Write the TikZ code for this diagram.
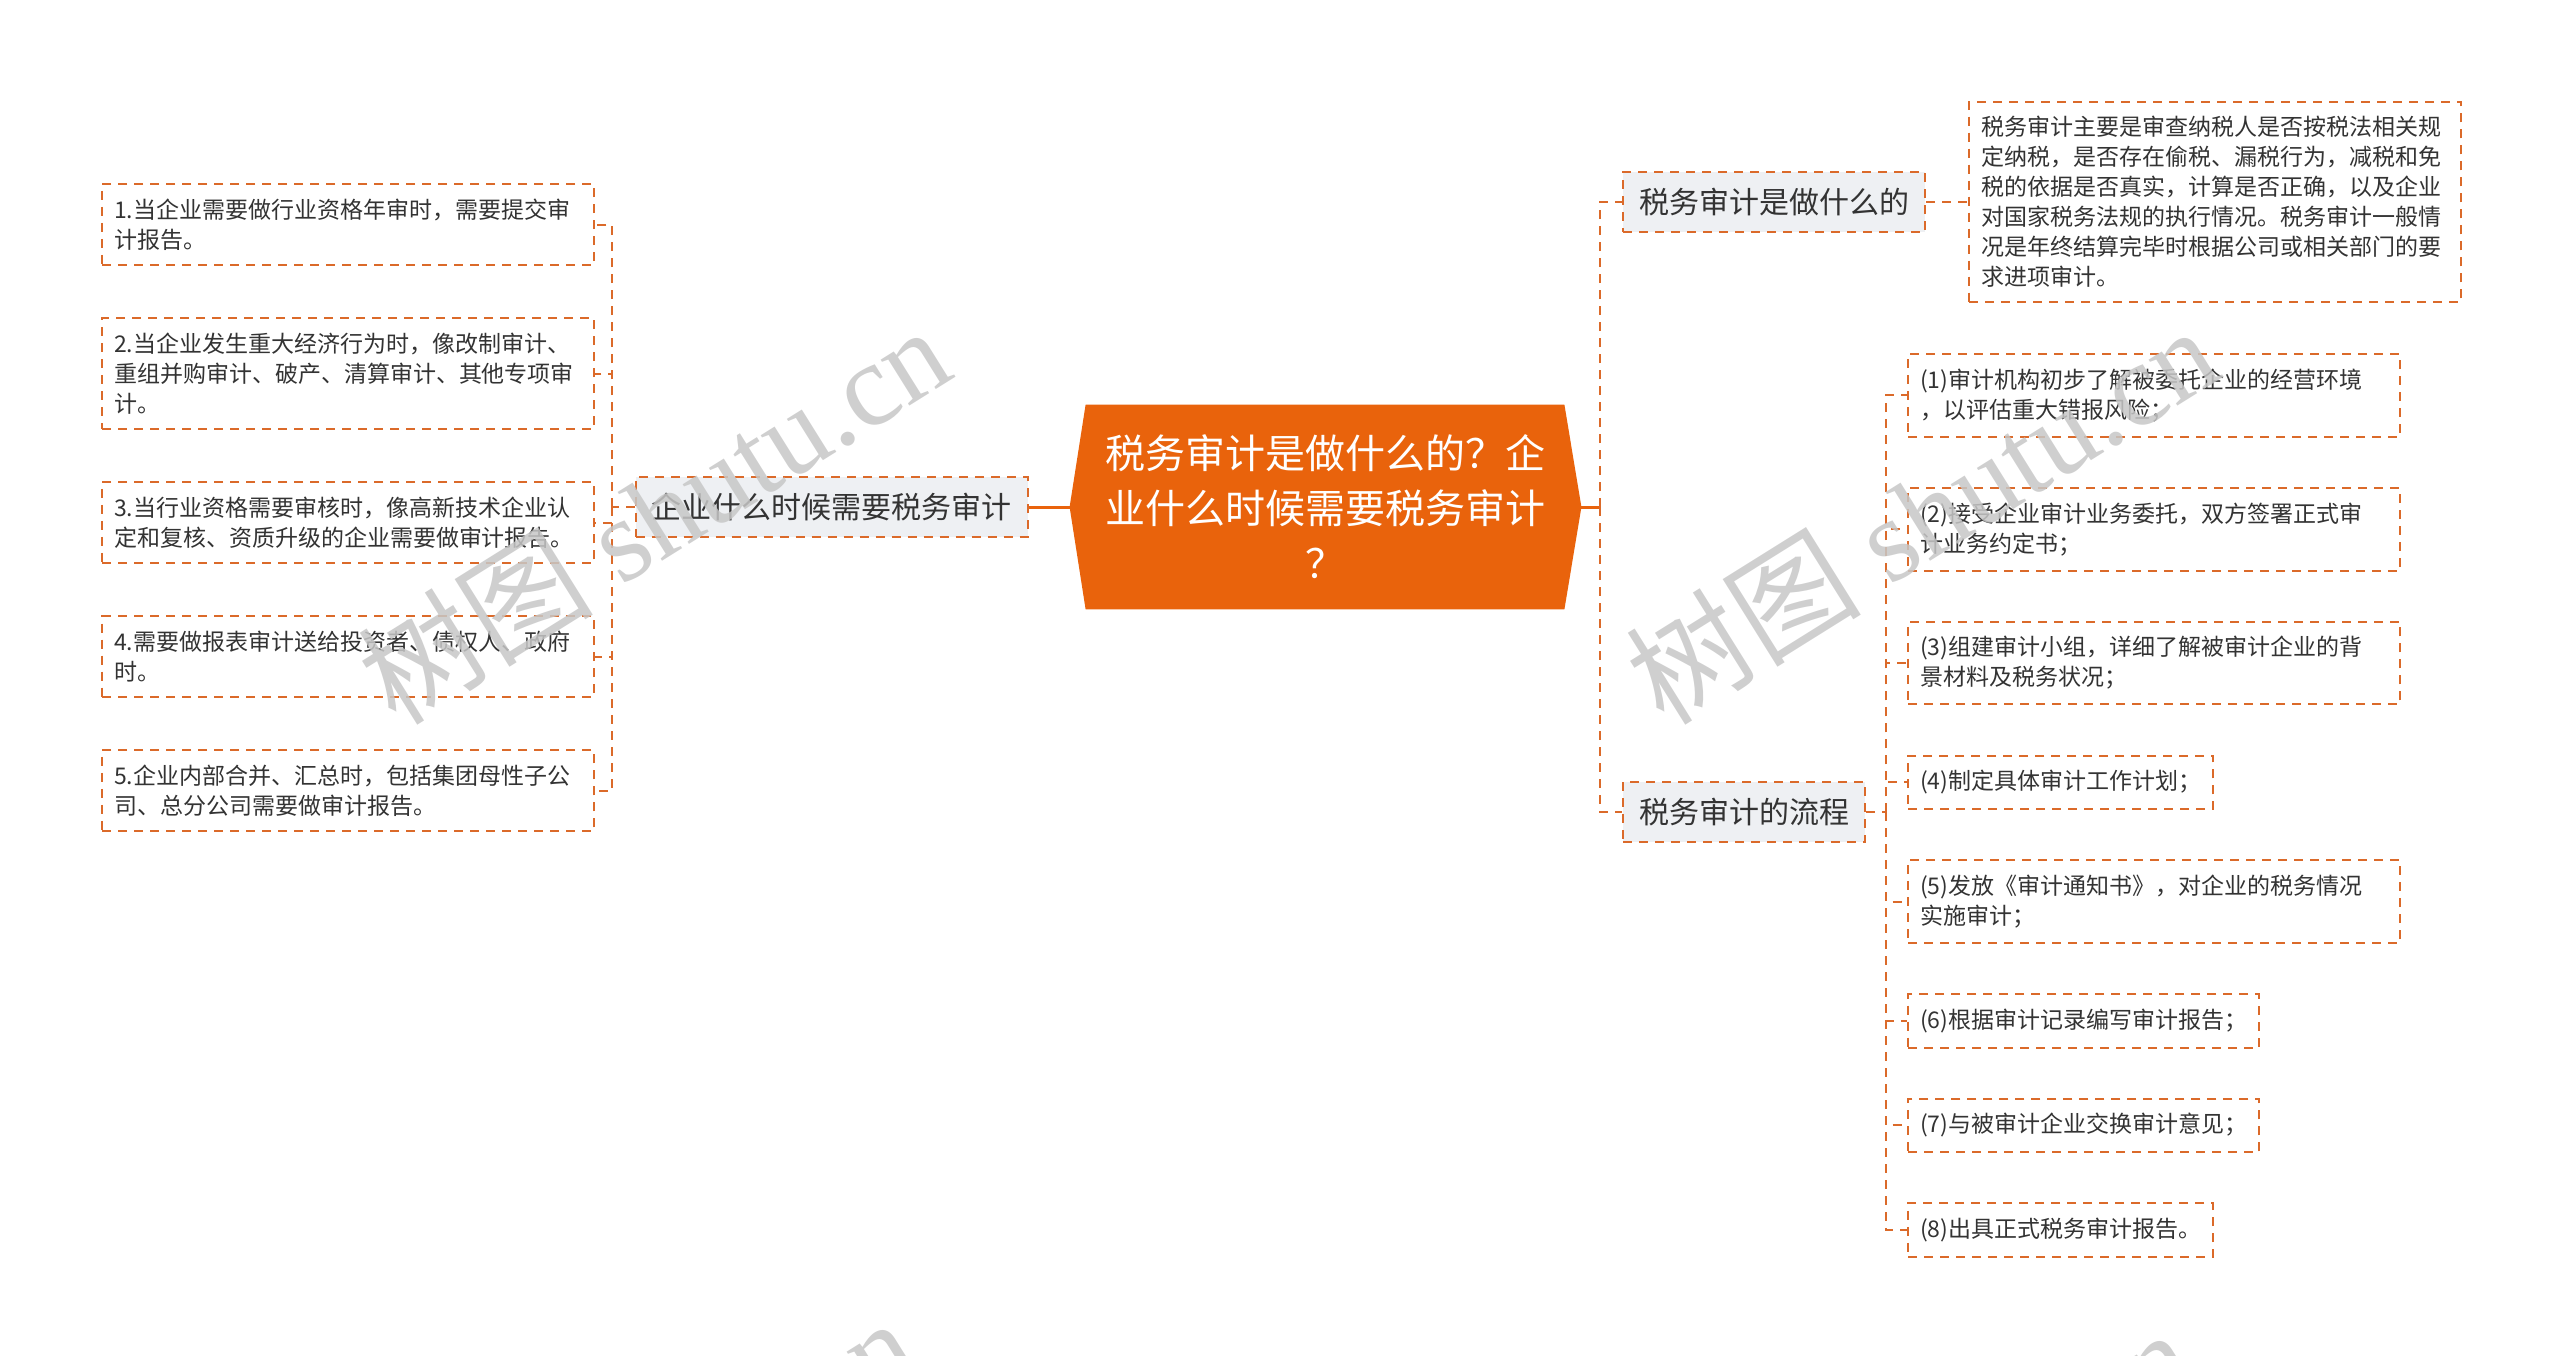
\documentclass[tikz,border=0pt]{standalone}
\usepackage{fontspec}
\usetikzlibrary{positioning, backgrounds}

\newfontfamily\cjkfont{Noto Sans CJK SC}
\newfontfamily\markfont{Liberation Serif}

\definecolor{rootorange}{HTML}{E9630C}
\definecolor{dashorange}{HTML}{DB6A2A}
\definecolor{subgray}{HTML}{EEF0F3}
\definecolor{inkgray}{HTML}{333333}

\begin{document}
\begin{tikzpicture}[
        x=0.5pt, y=-0.5pt,
        node distance=24.5pt,
        topic/.style={rectangle, minimum width=239pt, minimum height=102pt, inner sep=0pt, align=center, text=white, font=\cjkfont\fontsize{20}{27.5}\selectfont},
        subtopic/.style={rectangle, draw=dashorange, fill=subgray, line width=1pt, dash pattern=on 4.5pt off 3.5pt, inner xsep=8pt, inner ysep=8pt, text=inkgray, font=\cjkfont\fontsize{15}{18}\selectfont},
        detail/.style={rectangle, draw=dashorange, fill=white, line width=1pt, dash pattern=on 4.5pt off 3.5pt, inner xsep=6pt, inner ysep=7.4pt, align=left, text=inkgray, font=\cjkfont\fontsize{11.5}{15}\selectfont},
        widedetail/.style={detail, text width=234pt},
        link/.style={draw=dashorange, line width=1pt, dash pattern=on 4.5pt off 3.5pt},
        trunk/.style={draw=rootorange, line width=1.5pt},
        stamp/.style={text=black!22, text opacity=0.85, rotate=32, font=\markfont\fontsize{59}{59}\selectfont}
    ]
        \useasboundingbox (0,0) rectangle (2560,1355);

        % Central topic
        \node[topic] (root) at (1325,507) {税务审计是做什么的？企\\业什么时候需要税务审计\\？};
        \begin{scope}[on background layer]
            \fill[rootorange] ([xshift=-8pt]root.west) -- (root.north west) -- (root.north east)
                -- ([xshift=8.5pt]root.east) -- (root.south east) -- (root.south west) -- cycle;
        \end{scope}

        % Branches
        \node[subtopic, left=28.5pt of root] (when) {企业什么时候需要税务审计};
        \node[subtopic, anchor=west] (what) at (1622,202) {税务审计是做什么的};
        \node[subtopic, anchor=west] (flow) at (1622,812) {税务审计的流程};

        % When is an audit needed
        \node[widedetail, anchor=north west] (w1) at (101,183) {1.当企业需要做行业资格年审时，需要提交审\\计报告。};
        \node[widedetail, below=25.5pt of w1.south west, anchor=north west] (w2) {2.当企业发生重大经济行为时，像改制审计、\\重组并购审计、破产、清算审计、其他专项审\\计。};
        \node[widedetail, below=25.5pt of w2.south west, anchor=north west] (w3) {3.当行业资格需要审核时，像高新技术企业认\\定和复核、资质升级的企业需要做审计报告。};
        \node[widedetail, below=25.5pt of w3.south west, anchor=north west] (w4) {4.需要做报表审计送给投资者、债权人、政府\\时。};
        \node[widedetail, below=25.5pt of w4.south west, anchor=north west] (w5) {5.企业内部合并、汇总时，包括集团母性子公\\司、总分公司需要做审计报告。};

        % What it is
        \node[widedetail, right=21pt of what] (desc) {税务审计主要是审查纳税人是否按税法相关规\\定纳税，是否存在偷税、漏税行为，减税和免\\税的依据是否真实，计算是否正确，以及企业\\对国家税务法规的执行情况。税务审计一般情\\况是年终结算完毕时根据公司或相关部门的要\\求进项审计。};

        % Steps
        \node[widedetail, anchor=north west] (s1) at (1907,353) {(1)审计机构初步了解被委托企业的经营环境\\，以评估重大错报风险；};
        \node[widedetail, below=of s1.south west, anchor=north west] (s2) {(2)接受企业审计业务委托，双方签署正式审\\计业务约定书；};
        \node[widedetail, below=of s2.south west, anchor=north west] (s3) {(3)组建审计小组，详细了解被审计企业的背\\景材料及税务状况；};
        \node[detail, below=of s3.south west, anchor=north west] (s4) {(4)制定具体审计工作计划；};
        \node[widedetail, below=of s4.south west, anchor=north west] (s5) {(5)发放《审计通知书》，对企业的税务情况\\实施审计；};
        \node[detail, below=of s5.south west, anchor=north west] (s6) {(6)根据审计记录编写审计报告；};
        \node[detail, below=of s6.south west, anchor=north west] (s7) {(7)与被审计企业交换审计意见；};
        \node[detail, below=of s7.south west, anchor=north west] (s8) {(8)出具正式税务审计报告。};

        % Connections
        \coordinate (jL) at (612,507);
        \coordinate (jR) at (1600,507);
        \coordinate (jF) at (1886,812);
        \draw[trunk] (root.west) -- (when.east);
        \draw[trunk] (root.east) -- (jR);
        \draw[link] (when.west) -- (jL);
        \foreach \i in {1,...,5} \draw[link] (jL) |- (w\i.east);
        \draw[link] (jR) |- (what.west);
        \draw[link] (jR) |- (flow.west);
        \draw[link] (what.east) -- (desc.west);
        \draw[link] (flow.east) -- (jF);
        \foreach \i in {1,...,8} \draw[link] (jF) |- (s\i.west);

        % Watermarks
        \node[stamp] (wm1) at (653,514) {{\cjkfont 树图} shutu.cn};
        \node[stamp] (wm2) at (1921,514) {{\cjkfont 树图} shutu.cn};
        \node[stamp] (wm3) at (619,1506) {{\cjkfont 树图} shutu.cn};
        \node[stamp] (wm4) at (1896,1517) {{\cjkfont 树图} shutu.cn};
    \end{tikzpicture}
\end{document}
